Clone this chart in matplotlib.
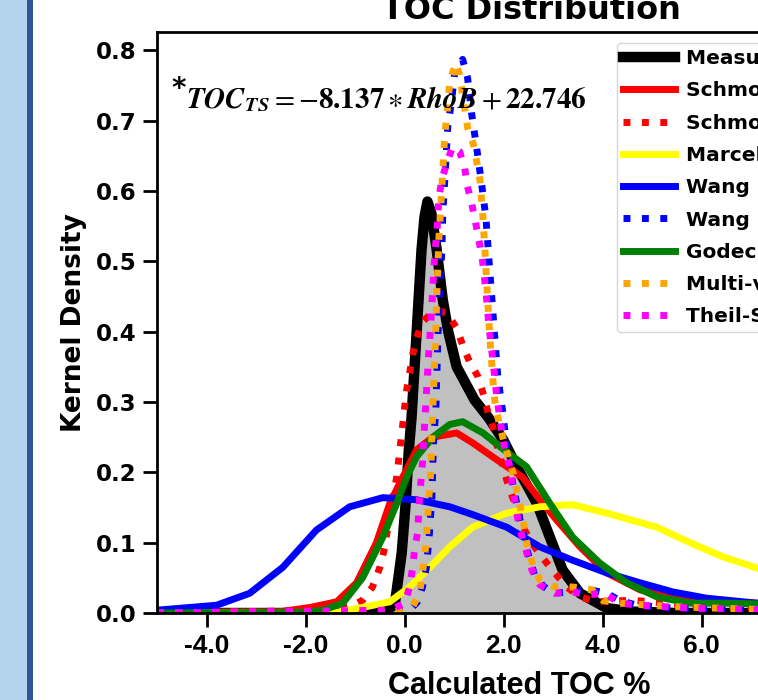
import matplotlib
matplotlib.use("Agg")
import matplotlib.pyplot as plt
from matplotlib.patches import Rectangle

plt.rcParams['axes.unicode_minus'] = False
plt.rcParams['mathtext.fontset'] = 'stix'

# measured TOC kernel density (grey filled)
meas_x = [-5, -1.0, -0.4, -0.2, -0.06, 0.02, 0.08, 0.14, 0.20, 0.26, 0.34, 0.40, 0.46, 0.54, 0.64, 0.77,
          0.88, 1.05, 1.41, 1.70, 2.00, 2.26, 2.67, 2.93, 3.19, 3.54, 4.08, 4.6, 5.5, 10]
meas_y = [0, 0, 0.002, 0.012, 0.085, 0.156, 0.228, 0.279, 0.35, 0.421, 0.516, 0.563, 0.585, 0.568, 0.52, 0.445,
          0.40, 0.35, 0.303, 0.277, 0.245, 0.208, 0.156, 0.108, 0.061, 0.028, 0.007, 0.002, 0.0, 0.0]

schm_x = [-5, -2.5, -1.9, -1.37, -0.97, -0.57, -0.30, -0.04, 0.24, 0.57, 1.05, 1.37, 1.92, 2.38, 2.73, 3.07,
          3.54, 4.08, 4.75, 5.41, 6.1, 7.1, 8, 10]
schm_y = [0.001, 0.002, 0.008, 0.016, 0.043, 0.10, 0.156, 0.193, 0.232, 0.25, 0.256, 0.242, 0.215, 0.193, 0.161,
          0.132, 0.094, 0.057, 0.033, 0.021, 0.016, 0.014, 0.008, 0.002]

schm2_x = [-5, -1.37, -1.1, -0.85, -0.65, -0.5, -0.4, -0.32, -0.24, -0.16, -0.12, -0.04, 0.0, 0.04, 0.10, 0.16,
           0.24, 0.36, 0.6, 0.85, 1.05, 1.17, 1.31, 1.48, 1.58, 1.68, 1.78, 1.86, 2.06, 2.16, 2.42, 2.59, 2.79,
           3.03, 3.27, 3.54, 3.88, 4.2, 4.59, 4.95, 5.76, 6.77, 8, 10]
schm2_y = [0, 0.004, 0.009, 0.018, 0.037, 0.065, 0.094, 0.132, 0.165, 0.193, 0.218, 0.267, 0.293, 0.317, 0.341,
           0.367, 0.391, 0.414, 0.43, 0.427, 0.405, 0.381, 0.357, 0.336, 0.313, 0.286, 0.265, 0.239, 0.189, 0.168,
           0.118, 0.097, 0.078, 0.057, 0.037, 0.023, 0.016, 0.017, 0.018, 0.016, 0.011, 0.009, 0.004, 0.001]

marc_x = [-5, -1.37, -0.77, -0.30, 0.10, 0.51, 0.91, 1.37, 2.06, 2.73, 3.39, 4.08, 5.09, 5.76, 6.42, 7.11, 8, 9, 10]
marc_y = [0, 0.001, 0.009, 0.016, 0.037, 0.065, 0.094, 0.122, 0.142, 0.151, 0.154, 0.142, 0.122, 0.10, 0.08,
          0.064, 0.04, 0.02, 0.01]

wang_x = [-5, -3.8, -3.13, -2.46, -1.78, -1.11, -0.44, 0.24, 0.91, 1.37, 2.06, 2.73, 3.39, 4.08, 4.75, 5.41,
          6.1, 7.11, 8, 10]
wang_y = [0.004, 0.011, 0.028, 0.065, 0.118, 0.151, 0.164, 0.161, 0.151, 0.14, 0.122, 0.094, 0.075, 0.057, 0.043,
          0.03, 0.021, 0.014, 0.009, 0.003]

wang2_x = [-5, -0.5, 0.1, 0.26, 0.36, 0.44, 0.5, 0.55, 0.58, 0.63, 0.67, 0.71, 0.75, 0.77, 0.81, 0.87, 0.95,
           1.01, 1.17, 1.27, 1.35, 1.45, 1.55, 1.64, 1.72, 1.80, 1.88, 1.98, 2.06, 2.18, 2.32, 2.48, 2.62, 2.8,
           3.0, 3.33, 3.74, 4.08, 4.34, 4.69, 5.41, 6.77, 8, 10]
wang2_y = [0, 0, 0.004, 0.016, 0.037, 0.065, 0.114, 0.165, 0.24, 0.29, 0.391, 0.464, 0.514, 0.569, 0.616, 0.691,
           0.73, 0.768, 0.787, 0.761, 0.711, 0.663, 0.612, 0.562, 0.485, 0.41, 0.336, 0.286, 0.236, 0.185, 0.135,
           0.087, 0.055, 0.038, 0.028, 0.03, 0.033, 0.028, 0.018, 0.011, 0.007, 0.006, 0.003, 0.001]

godec_x = [-5, -2.0, -1.65, -1.25, -0.85, -0.44, -0.16, 0.04, 0.24, 0.57, 0.91, 1.17, 1.58, 2.06, 2.46, 2.93,
           3.39, 3.94, 4.48, 5.09, 5.76, 6.5, 7.1, 8, 10]
godec_y = [0.0, 0.001, 0.004, 0.014, 0.05, 0.108, 0.156, 0.193, 0.222, 0.25, 0.268, 0.272, 0.256, 0.229, 0.208,
           0.156, 0.108, 0.071, 0.043, 0.023, 0.014, 0.014, 0.013, 0.008, 0.002]

multi_x = [-5, -0.3, 0.16, 0.3, 0.36, 0.44, 0.48, 0.53, 0.55, 0.59, 0.63, 0.65, 0.69, 0.73, 0.77, 0.81, 0.85,
           0.91, 1.03, 1.11, 1.27, 1.39, 1.52, 1.58, 1.62, 1.66, 1.72, 1.80, 1.84, 1.92, 2.02, 2.12, 2.22, 2.28,
           2.36, 2.42, 2.48, 2.59, 2.73, 3.03, 3.39, 3.78, 4.0, 4.34, 5.41, 8, 10]
multi_y = [0, 0, 0.009, 0.028, 0.057, 0.104, 0.156, 0.203, 0.256, 0.329, 0.405, 0.455, 0.531, 0.58, 0.63, 0.68,
           0.706, 0.755, 0.782, 0.765, 0.69, 0.666, 0.616, 0.563, 0.516, 0.464, 0.391, 0.314, 0.29, 0.267, 0.239,
           0.215, 0.192, 0.168, 0.142, 0.121, 0.094, 0.068, 0.047, 0.037, 0.037, 0.033, 0.018, 0.014, 0.009,
           0.003, 0.001]

theil_x = [-5, -0.3, 0.0, 0.1, 0.16, 0.2, 0.26, 0.3, 0.36, 0.4, 0.44, 0.48, 0.53, 0.57, 0.61, 0.65, 0.69, 0.75,
           0.85, 0.97, 1.11, 1.21, 1.27, 1.35, 1.43, 1.49, 1.56, 1.64, 1.70, 1.78, 1.86, 1.96, 2.02, 2.12, 2.22,
           2.28, 2.36, 2.46, 2.57, 2.73, 3.03, 3.37, 3.7, 4.04, 4.34, 4.75, 5.76, 8, 10]
theil_y = [0, 0.004, 0.014, 0.037, 0.064, 0.09, 0.114, 0.164, 0.213, 0.265, 0.314, 0.364, 0.414, 0.464, 0.514,
           0.54, 0.59, 0.616, 0.64, 0.663, 0.656, 0.633, 0.606, 0.583, 0.556, 0.533, 0.508, 0.458, 0.408, 0.36,
           0.307, 0.258, 0.234, 0.208, 0.161, 0.135, 0.111, 0.087, 0.061, 0.04, 0.028, 0.03, 0.026, 0.028, 0.014,
           0.011, 0.007, 0.003, 0.001]

labels = ['Measured TOC', 'Schmoker (1979)', 'Schmoker (modified)', 'Marcelino (2016)', 'Wang (2016)',
          'Wang (modified)', 'Godec (2014)', 'Multi-variable regression', 'Theil-Sen regression']

fig = plt.figure(figsize=(7.58, 7.0), dpi=100)
fig.add_artist(Rectangle((0, 0), 27 / 758, 1, transform=fig.transFigure, color='#b4d3ec', lw=0))
fig.add_artist(Rectangle((27 / 758, 0), 6 / 758, 1, transform=fig.transFigure, color='#2f569b', lw=0))

ax = fig.add_axes([157 / 758, 87 / 700, 743 / 758, 581 / 700])

ax.fill_between(meas_x, meas_y, color='silver')
ax.plot(meas_x, meas_y, color='black', lw=7.5, label=labels[0])
ax.plot(schm_x, schm_y, color='red', lw=5, label=labels[1])
ax.plot(schm2_x, schm2_y, color='red', lw=5, ls=':', label=labels[2])
ax.plot(marc_x, marc_y, color='yellow', lw=5, label=labels[3])
ax.plot(wang_x, wang_y, color='blue', lw=5, label=labels[4])
ax.plot(wang2_x, wang2_y, color='blue', lw=5, ls=':', label=labels[5])
ax.plot(godec_x, godec_y, color='green', lw=5, label=labels[6])
ax.plot(multi_x, multi_y, color='orange', lw=5, ls=':', label=labels[7])
ax.plot(theil_x, theil_y, color='magenta', lw=5, ls=':', label=labels[8])

ax.set_xlim(-5, 10)
ax.set_ylim(0, 0.826)
ax.set_xticks([-4, -2, 0, 2, 4, 6, 8])
ax.set_xticklabels(['%.1f' % v for v in [-4, -2, 0, 2, 4, 6, 8]],
                   family='Liberation Sans', weight='bold', fontsize=19)
ax.set_yticks([0, 0.1, 0.2, 0.3, 0.4, 0.5, 0.6, 0.7, 0.8])
ax.set_yticklabels(['%.1f' % v for v in ax.get_yticks()], weight='bold', fontsize=16.5)
ax.tick_params(length=10, width=2, pad=5)
for s in ax.spines.values():
    s.set_linewidth(2)

ax.set_xlabel('Calculated TOC %', family='Liberation Sans', weight='bold', fontsize=22)
ax.xaxis.set_label_coords(0.487, -0.099)
ax.set_ylabel('Kernel Density', weight='bold', fontsize=19)
ax.yaxis.set_label_coords(-0.094, 0.5)

fig.text(531 / 758, 1 - 19 / 700, 'TOC Distribution', ha='center', va='baseline',
         weight='bold', fontsize=23)

fig.text(171 / 758, 1 - 97 / 700, '*', ha='left', va='baseline', weight='bold', fontsize=20)
fig.text(186 / 758, 1 - 108 / 700,
         r'$\mathbfit{TOC}_{\mathbfit{TS}} = -\mathbf{8.137} \ast \mathbfit{RhoB} + \mathbf{22.746}$',
         ha='left', va='baseline', fontsize=21)

ax.legend(loc='upper left', bbox_to_anchor=(617 / 758, 1 - 43 / 700), bbox_transform=fig.transFigure,
          borderaxespad=0, prop={'weight': 'bold', 'size': 14.5}, handlelength=2.6,
          labelspacing=0.66, borderpad=0.3, handletextpad=0.55)

fig.savefig('out.png', dpi=100)
